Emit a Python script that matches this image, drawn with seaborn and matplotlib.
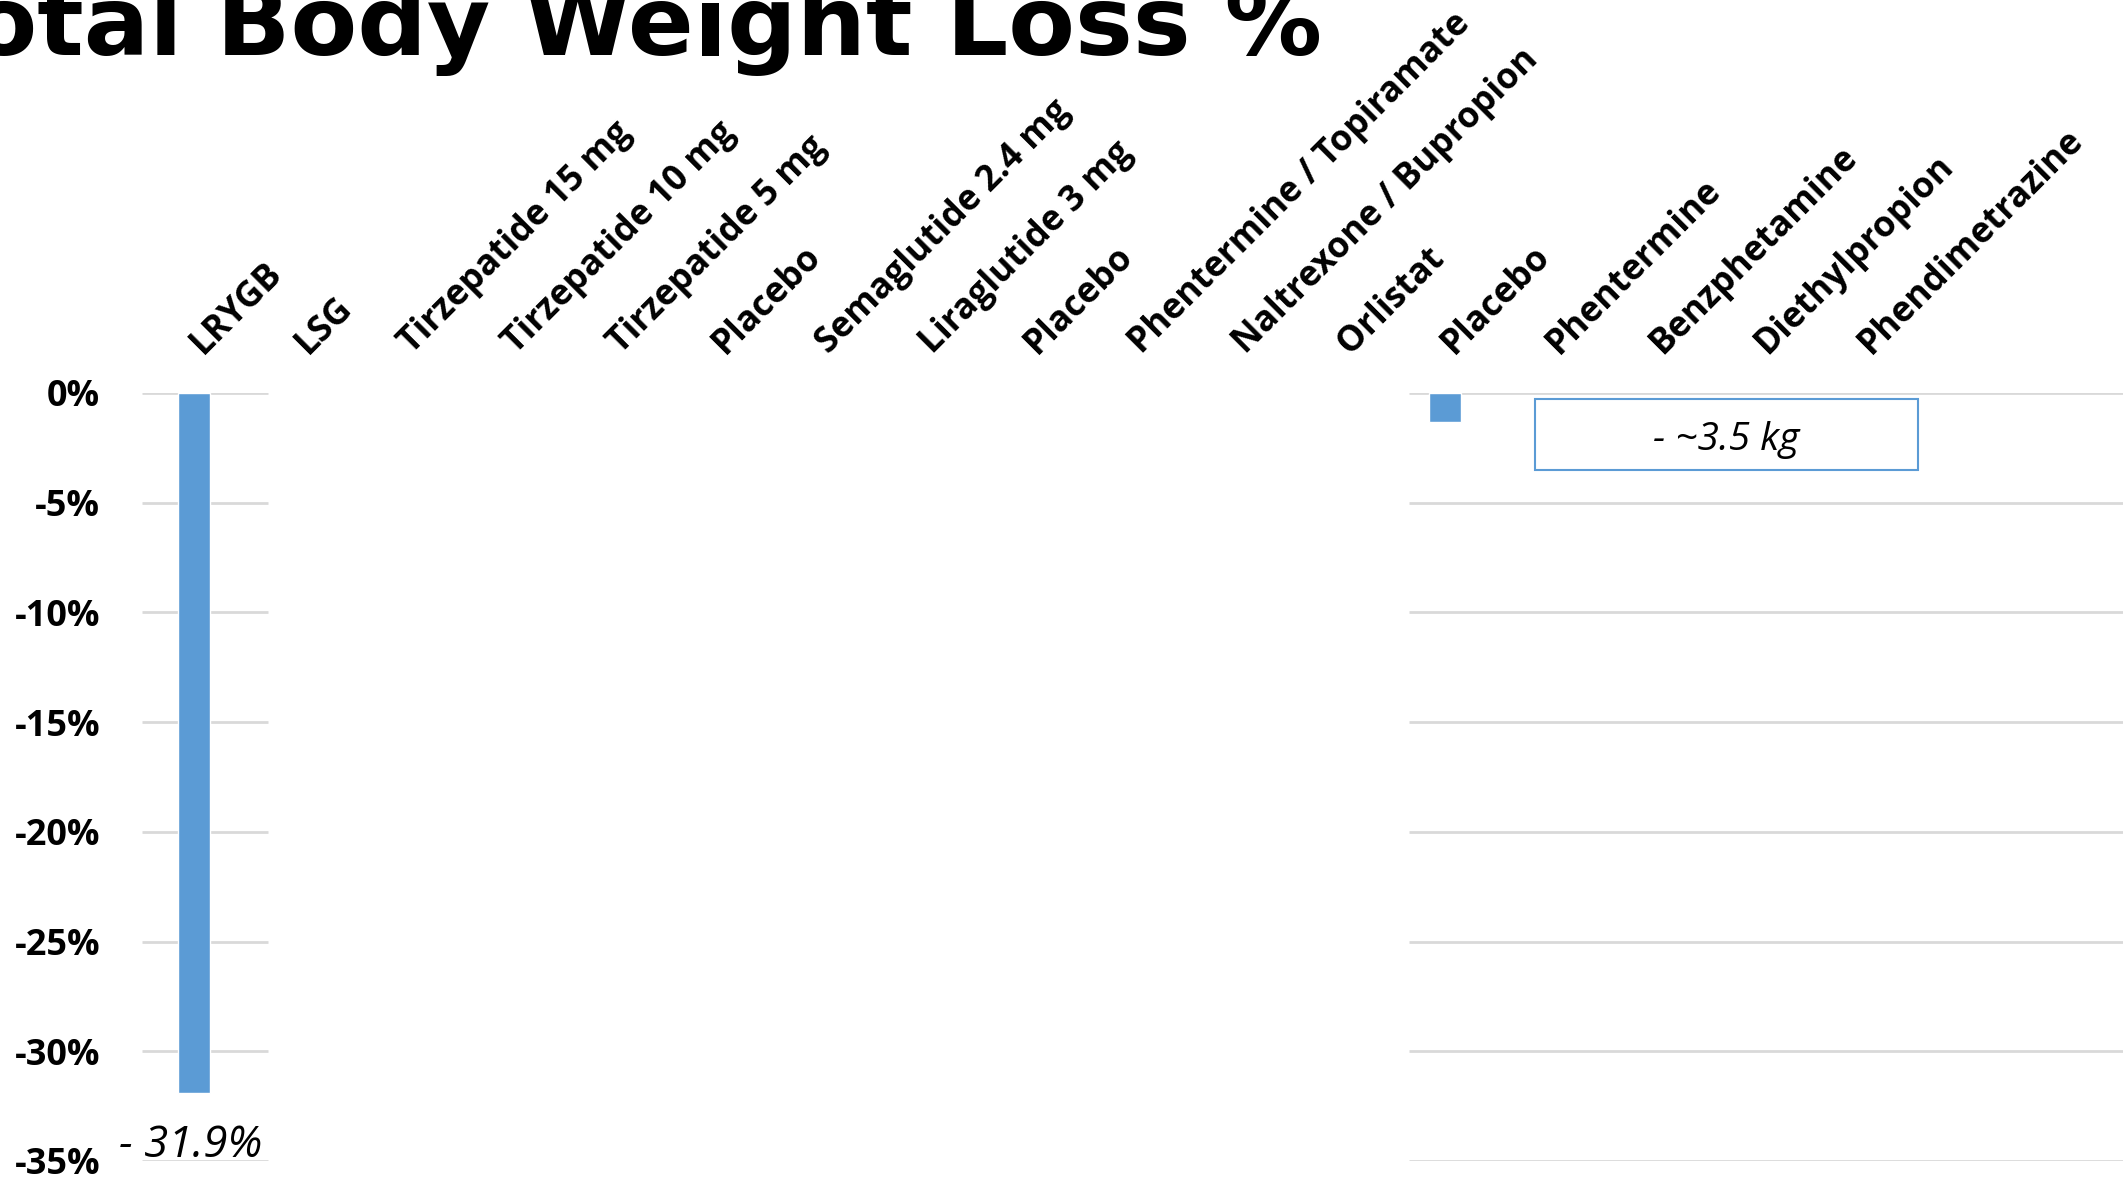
import numpy as np
import pandas as pd
import matplotlib
matplotlib.use("Agg")
import matplotlib.pyplot as plt
from matplotlib.patches import Rectangle
from matplotlib.ticker import FuncFormatter
from matplotlib.transforms import ScaledTranslation
import seaborn as sns

# Treatment arms, grouped as in the comparison (surgery, incretins, older drugs)
treatments = [
    "LRYGB", "LSG",
    "Tirzepatide 15 mg", "Tirzepatide 10 mg", "Tirzepatide 5 mg", "Placebo",
    "Semaglutide 2.4 mg", "Liraglutide 3 mg", "Placebo",
    "Phentermine / Topiramate", "Naltrexone / Bupropion", "Orlistat", "Placebo",
    "Phentermine", "Benzphetamine", "Diethylpropion", "Phendimetrazine",
]
# Total body weight loss (%); arms not yet revealed are left empty
weight_loss_pct = [
    -31.9, np.nan,
    np.nan, np.nan, np.nan, np.nan,
    np.nan, np.nan, np.nan,
    np.nan, np.nan, np.nan, -1.3,
    np.nan, np.nan, np.nan, np.nan,
]
y_ticks = [0, -5, -10, -15, -20, -25, -30, -35]
kg_note = "- ~3.5 kg"

BAR_BLUE = "#5B9BD5"
GRID_GREY = "#D9D9D9"

sns.set_theme(style="white")
plt.rcParams["font.family"] = ["Open Sans", "DejaVu Sans"]

W, H = 2123, 1177
fig = plt.figure(figsize=(W / 100, H / 100), dpi=100)
ax = fig.add_axes([142 / W, 1 - 1161 / H, 1 - 142 / W, (1161 - 393) / H])

slots = [str(i) for i in range(len(treatments))]
df = pd.DataFrame({"slot": slots, "loss": weight_loss_pct})

sns.barplot(data=df, x="slot", y="loss", order=slots, color=BAR_BLUE,
            saturation=1, width=0.31, ax=ax, zorder=3)

ax.set_xlim(-0.5, 18.5)
ax.set_ylim(-35, 0)
ax.set_xlabel("")
ax.set_ylabel("")
for s in ax.spines.values():
    s.set_visible(False)

# Horizontal gridlines, shown only beside the surgical and the last groups
ax.hlines(y_ticks, -0.5, 0.71, color=GRID_GREY, lw=2, zorder=1)
ax.hlines(y_ticks, 11.65, 18.5, color=GRID_GREY, lw=2, zorder=1)

# Category labels above the plot
ax.xaxis.tick_top()
ax.set_xticks(range(len(treatments)))
ax.set_xticklabels(treatments, rotation=45, ha="left", va="baseline",
                   rotation_mode="anchor", fontweight="bold", fontsize=25.5,
                   color="black")
ax.tick_params(axis="x", length=0, pad=27.5)
shift = ScaledTranslation(9 / 100, 0, fig.dpi_scale_trans)
for lbl in ax.get_xticklabels():
    lbl.set_transform(lbl.get_transform() + shift)

ax.set_yticks(y_ticks)
ax.yaxis.set_major_formatter(FuncFormatter(lambda v, _: f"{v:.0f}%"))
ax.tick_params(axis="y", length=0, pad=30, labelsize=26, labelcolor="black")
for lbl in ax.get_yticklabels():
    lbl.set_fontweight("bold")

# Value callout under the surgical bar
v0 = weight_loss_pct[0]
ax.text(-0.03, v0 - 2.92, f"- {abs(v0):.1f}%", ha="center", va="baseline",
        style="italic", fontsize=31.5, color="black", zorder=4)

# Absolute weight-loss note for the older anti-obesity drugs
bx, by, bw, bh = 12.86, -0.27, 3.67, -3.24
ax.add_patch(Rectangle((bx, by), bw, bh, fill=False,
                       edgecolor=BAR_BLUE, lw=1.5, zorder=4))
ax.text(bx + bw / 2, -2.6, kg_note, ha="center", va="baseline",
        style="italic", fontsize=28, color="black", zorder=5)

fig.text(1322 / W, 1 - 55 / H, "Total Body Weight Loss %", ha="right",
         va="baseline", fontsize=70, fontweight="bold", color="black",
         family=["DejaVu Sans"])

fig.savefig("out.png", dpi=100, facecolor="white")
